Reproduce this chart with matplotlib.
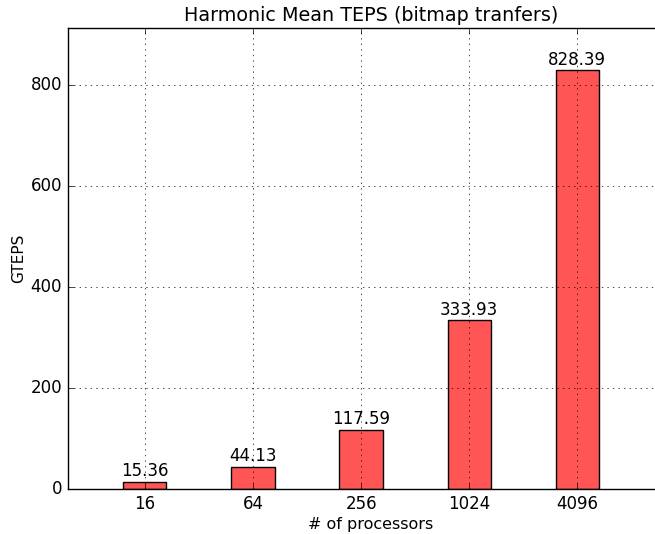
import numpy as np
import matplotlib
matplotlib.use("Agg")
import matplotlib.pyplot as plt

plt.style.use("classic")

processors = ["16", "64", "256", "1024", "4096"]
gteps = [15.36, 44.13, 117.59, 333.93, 828.39]


def plot_teps():
    fig = plt.figure(figsize=(6.55, 5.34), dpi=100, facecolor="white")
    ax = fig.add_axes([67.5 / 655, 44.7 / 534, 1.03 - 67.5 / 655, 461.0 / 534])
    ind = np.arange(len(gteps))
    bars = ax.bar(ind, gteps, 0.4, align="center", color="#ff5555",
                  edgecolor="black", linewidth=1)

    for rect, val in zip(bars, gteps):
        ax.text(rect.get_x() + rect.get_width() / 2, rect.get_height() + 3,
                "%.2f" % val, ha="center", va="bottom", fontsize=12)

    ax.set_title("Harmonic Mean TEPS (bitmap tranfers)", fontsize=13.8)
    ax.set_xlabel("# of processors", fontsize=11.5, labelpad=3)
    ax.set_ylabel("GTEPS", fontsize=11, labelpad=3)
    ax.set_xticks(ind)
    ax.set_xticklabels(processors)
    ax.set_xlim(-0.715, 4.9)
    ax.set_ylim(0, max(gteps) * 1.1)
    ax.set_yticks([0, 200, 400, 600, 800])
    ax.grid(True)
    fig.savefig("out.png", dpi=100, facecolor="white")


if __name__ == "__main__":
    plot_teps()
